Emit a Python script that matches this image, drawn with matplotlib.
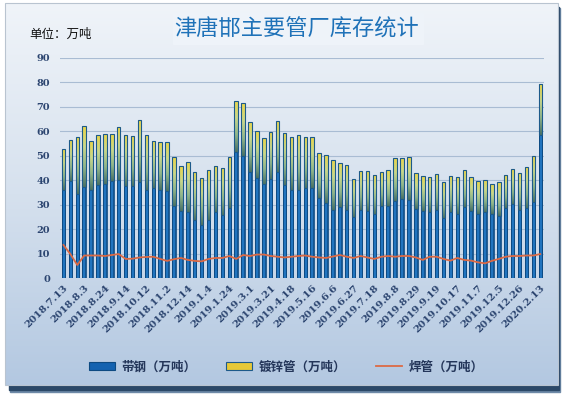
import numpy as np
import matplotlib.pyplot as plt
from matplotlib.patches import Rectangle, Patch
from matplotlib.lines import Line2D
from matplotlib.colors import LinearSegmentedColormap

plt.rcParams['font.family'] = ['Noto Sans CJK SC', 'DejaVu Sans']

# data (万吨)
tick_labels = ['2018.7.13', '2018.8.3', '2018.8.24', '2018.9.14', '2018.10.12', '2018.11.2',
               '2018.12.14', '2019.1.4', '2019.1.24', '2019.3.1', '2019.3.21', '2019.4.18',
               '2019.5.16', '2019.6.6', '2019.6.27', '2019.7.18', '2019.8.8', '2019.8.29',
               '2019.9.19', '2019.10.17', '2019.11.7', '2019.12.5', '2019.12.26', '2020.2.13']

strip_steel = [36.1, 39.8, 34.3, 37.4, 36.2, 38.1, 38.4, 39.8, 40.2, 37.7,
               37.7, 39.2, 36.1, 36.8, 35.9, 35.7, 29.5, 27.5, 26.9, 23.6,
               21.6, 23.8, 26.9, 25.7, 28.6, 51.5, 50.0, 43.3, 40.9, 38.5,
               40.4, 43.3, 38.0, 35.9, 36.1, 36.8, 36.8, 32.7, 30.6, 27.7,
               29.0, 27.7, 24.9, 27.7, 27.3, 26.1, 29.4, 29.4, 31.6, 32.2,
               31.8, 28.2, 27.5, 26.9, 27.7, 24.5, 26.9, 26.1, 29.0, 27.3,
               26.1, 26.9, 26.1, 25.3, 28.6, 30.2, 27.7, 28.6, 31.0, 58.6]

galv_pipe = [16.6, 16.6, 23.5, 24.9, 19.9, 20.4, 20.5, 19.1, 21.6, 20.9,
             20.5, 25.4, 22.5, 19.3, 19.7, 19.9, 20.0, 18.3, 20.5, 19.7,
             19.3, 20.3, 18.9, 19.3, 20.9, 20.9, 21.6, 20.6, 19.2, 18.7,
             19.3, 20.9, 21.3, 21.9, 22.4, 21.0, 21.0, 18.4, 19.8, 20.5,
             18.1, 18.5, 15.7, 16.0, 16.4, 16.0, 13.9, 14.7, 17.5, 16.9,
             17.7, 14.7, 14.2, 14.4, 14.9, 14.7, 14.8, 15.2, 15.1, 14.0,
             13.5, 13.1, 12.3, 13.9, 13.5, 14.3, 15.2, 16.8, 18.9, 20.8]

welded_pipe = [13.5, 9.8, 5.3, 9.2, 9.2, 9.2, 9.0, 9.4, 9.8, 7.8,
               7.9, 8.4, 8.6, 8.7, 7.8, 7.0, 7.7, 8.2, 7.4, 7.0,
               6.8, 7.8, 8.2, 8.2, 9.0, 7.8, 9.4, 9.0, 9.6, 9.6,
               9.0, 8.7, 8.4, 8.7, 9.0, 9.2, 8.7, 8.4, 8.2, 8.8,
               9.4, 8.7, 8.2, 9.0, 8.4, 7.8, 8.7, 9.0, 8.7, 9.0,
               9.0, 8.4, 7.4, 8.7, 8.7, 7.8, 7.1, 8.2, 7.4, 7.1,
               6.4, 6.0, 7.0, 7.8, 8.7, 9.0, 9.0, 9.2, 9.2, 9.8]

W, H = 564, 396
fig = plt.figure(figsize=(W / 100, H / 100), dpi=100, facecolor='white')

# background panel with soft shadow, in pixel coordinates
bg = fig.add_axes([0, 0, 1, 1], zorder=-10)
bg.set_xlim(0, W)
bg.set_ylim(H, 0)
bg.axis('off')
bg.add_patch(Rectangle((10, 8), 550, 384, color='#6f8aa8', zorder=0.5))
bg.add_patch(Rectangle((9, 7), 550, 383, color='#2b4868', zorder=0.6))
panel_cmap = LinearSegmentedColormap.from_list('panel', ['#f0f4f9', '#d6e1ee', '#b3c8e1'])
bg.imshow(np.linspace(0, 1, 256).reshape(-1, 1), cmap=panel_cmap, aspect='auto',
          extent=[5, 558, 385, 3], zorder=1)
bg.add_patch(Rectangle((5, 3), 553, 382, fill=False, ec='#b9c4d0', lw=0.8, zorder=2))
# title box
bg.add_patch(Rectangle((173, 13), 250, 31, color='#eef3f9', zorder=3))
bg.text(297, 29, '津唐邯主要管厂库存统计', ha='center', va='center', fontsize=16,
        color='#1f72b8', zorder=4)
bg.text(29, 34, '单位：万吨', ha='left', va='center', fontsize=9, color='#111111', zorder=4)

ax = fig.add_axes([60 / W, 1 - 278 / H, (543.7 - 60) / W, (278 - 58) / H])
ax.set_facecolor('none')
x = np.arange(len(strip_steel))
width = 0.5

blue_cmap = LinearSegmentedColormap.from_list('blue', ['#0b477f', '#2a86d6', '#0b477f'])
galv_cmap = LinearSegmentedColormap.from_list('galv', ['#4a7265', '#8fb58a', '#c9d88a', '#ead64a'])

bars_blue = ax.bar(x, strip_steel, width, color='none', edgecolor='#0d4a82', lw=0.6, zorder=2)
bars_galv = ax.bar(x, galv_pipe, width, bottom=strip_steel, color='none',
                   edgecolor='#1d5a8a', lw=0.8, zorder=2)

hgrad = np.linspace(0, 1, 32).reshape(1, -1)
vgrad = np.linspace(0, 1, 64).reshape(-1, 1)
for b in bars_blue:
    x0, y0 = b.get_x(), b.get_y()
    im = ax.imshow(hgrad, cmap=blue_cmap, aspect='auto', zorder=1.5,
                   extent=[x0, x0 + b.get_width(), y0, y0 + b.get_height()], origin='lower')
    im.set_clip_path(b)
for b in bars_galv:
    x0, y0 = b.get_x(), b.get_y()
    im = ax.imshow(vgrad, cmap=galv_cmap, aspect='auto', zorder=1.5,
                   extent=[x0, x0 + b.get_width(), y0, y0 + b.get_height()], origin='lower')
    im.set_clip_path(b)

ax.plot(x, welded_pipe, color='#dc6a45', lw=1.3, zorder=3)

ax.set_xlim(-0.5, len(x) - 0.5)
ax.set_ylim(0, 90)
ax.set_yticks(range(0, 91, 10))
ax.yaxis.grid(True, color='#a9bcd3', lw=0.8)
ax.set_axisbelow(True)
for s in ax.spines.values():
    s.set_visible(False)
ax.tick_params(length=0)
ax.tick_params(axis='y', pad=7)
ax.tick_params(axis='x', pad=4)
ax.set_xticks(x[::3])
ax.set_xticklabels(tick_labels, rotation=45, ha='right', rotation_mode='anchor')
for lab in ax.get_yticklabels() + ax.get_xticklabels():
    lab.set_fontfamily('DejaVu Serif')
    lab.set_fontweight('bold')
    lab.set_fontsize(7.3)
    lab.set_color('#2c4570')
for lab in ax.get_yticklabels():
    lab.set_fontsize(7)

handles = [Patch(facecolor='#1462b0', edgecolor='#0d4a82', lw=0.8),
           Patch(facecolor='#e6c838', edgecolor='#1d5a8a', lw=0.8),
           Line2D([0], [0], color='#dc6a45', lw=1.3)]
labels = ['带钢（万吨）', '镀锌管（万吨）', '焊管（万吨）']
leg = fig.legend(handles, labels, ncol=3, loc='center', frameon=False,
                 bbox_to_anchor=(286 / W, 1 - 367 / H),
                 prop={'family': 'Noto Sans CJK SC', 'size': 9, 'weight': 'bold'},
                 handlelength=2.1, handleheight=0.6, columnspacing=2.4, handletextpad=0.5)
for t in leg.get_texts():
    t.set_color('#24365a')

fig.savefig('out.png', dpi=100)
